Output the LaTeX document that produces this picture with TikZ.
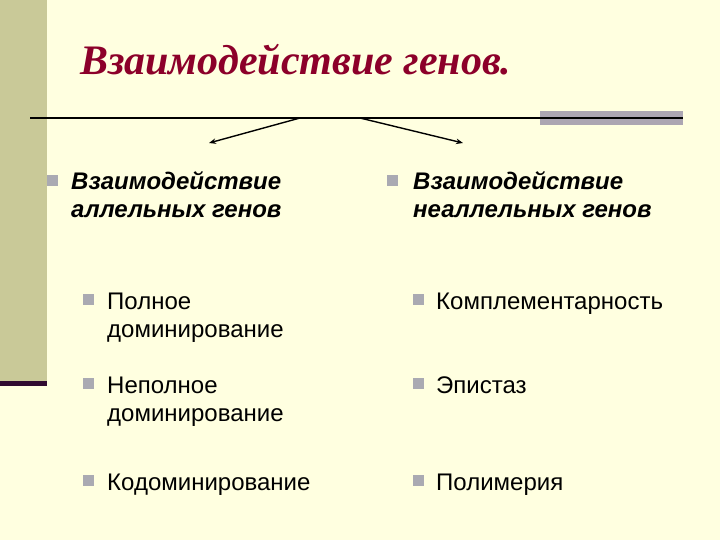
\documentclass[tikz,border=0pt]{standalone}
\usepackage{fontspec}
\setmainfont{Liberation Serif}
\newfontfamily\arialf{Liberation Sans}
\usetikzlibrary{arrows.meta}
\definecolor{bgc}{RGB}{255,255,224}
\definecolor{barg}{RGB}{201,201,152}
\definecolor{darkp}{RGB}{48,10,48}
\definecolor{grayb}{RGB}{172,166,178}
\definecolor{bul}{RGB}{170,170,178}
\definecolor{titlec}{RGB}{140,0,42}
\tikzset{
  head/.style={anchor=base west, inner sep=0pt, align=left, font=\arialf\bfseries\itshape\fontsize{24}{28}\selectfont},
  item/.style={anchor=base west, inner sep=0pt, align=left, font=\arialf\fontsize{24}{28}\selectfont},
  bsq/.style={fill=bul, draw=none, minimum size=11pt, inner sep=0pt},
  conn/.style={draw=black, line width=1.4pt, -{Stealth[length=7pt,width=5.5pt]}}
}
\begin{document}
\begin{tikzpicture}[x=1pt,y=-1pt]
\fill[bgc] (0,0) rectangle (720,540);
\useasboundingbox (0,0) rectangle (720,540);
\fill[barg] (0,0) rectangle (47,381);
\fill[darkp] (0,381) rectangle (47,386);
\fill[grayb] (540,111) rectangle (683,125);
\draw[line width=2pt, black] (30,118) -- (683,118);
\node[anchor=base west, inner sep=0pt, text=titlec, font=\bfseries\itshape\fontsize{42}{48}\selectfont] (title) at (80,75) {Взаимодействие генов.};
\coordinate (s1) at (300,118);
\coordinate (s2) at (360,118);
\coordinate (e1) at (209,143);
\coordinate (e2) at (463,143);
\draw[conn] (s1) -- (e1);
\draw[conn] (s2) -- (e2);
\node[bsq] (b1) at (52,181) {};
\node[head] (h1) at (71,218) {Взаимодействие\\аллельных генов};
\node[bsq] (b2) at (392,181) {};
\node[head] (h2) at (413,218) {Взаимодействие\\неаллельных генов};
\node[bsq] (b3) at (88,299) {};
\node[item] (i1) at (107,337) {Полное\\доминирование};
\node[bsq] (b4) at (88,383) {};
\node[item] (i2) at (107,421) {Неполное\\доминирование};
\node[bsq] (b5) at (88,480) {};
\node[item] (i3) at (107,490) {Кодоминирование};
\node[bsq] (b6) at (418,299) {};
\node[item] (j1) at (436,309) {Комплементарность};
\node[bsq] (b7) at (418,383) {};
\node[item] (j2) at (436,393) {Эпистаз};
\node[bsq] (b8) at (418,480) {};
\node[item] (j3) at (436,490) {Полимерия};
\end{tikzpicture}
\end{document}
